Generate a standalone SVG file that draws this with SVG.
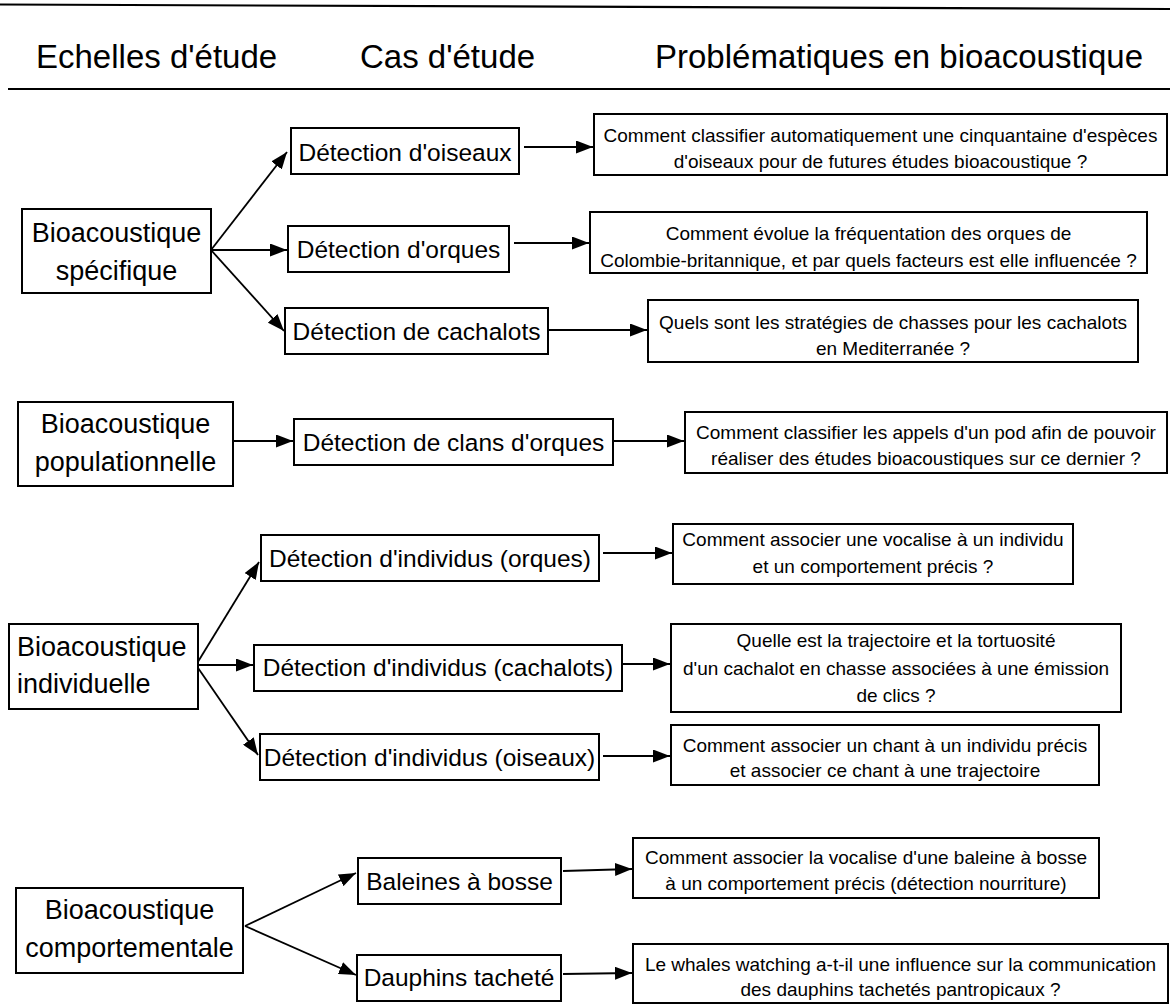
<svg xmlns="http://www.w3.org/2000/svg" width="1170" height="1005" viewBox="0 0 1170 1005">
<defs>
<marker id="ah" markerUnits="userSpaceOnUse" markerWidth="17" markerHeight="13" refX="17" refY="6.5" orient="auto">
<path d="M0,0 L17,6.5 L0,13 z" fill="#000"/>
</marker>
<style>
text{font-family:"Liberation Sans",Arial,sans-serif;fill:#000}
.hdr{font-size:33px}
.sc{font-size:27px;text-anchor:middle}
.scl{font-size:27px}
.cs{font-size:24.5px;text-anchor:middle}
.q{font-size:19px;text-anchor:middle}
rect{fill:#fff;stroke:#000;stroke-width:2}
.rule{stroke:#000;stroke-width:2.2;fill:none}
#connectors line{stroke:#000;stroke-width:1.8;marker-end:url(#ah)}
</style>
</defs>
<rect x="0" y="0" width="1170" height="1005" style="stroke:none;fill:#fff"/>
<g id="header">
<line class="rule" x1="0" y1="4.5" x2="1170" y2="9"/>
<line class="rule" x1="8" y1="89" x2="1170" y2="89"/>
<text class="hdr" x="36" y="68">Echelles d'étude</text>
<text class="hdr" x="360" y="68">Cas d'étude</text>
<text class="hdr" x="655" y="68">Problématiques en bioacoustique</text>
</g>
<g id="connectors">
<line x1="211" y1="250" x2="287" y2="152"/>
<line x1="211" y1="250" x2="287" y2="250"/>
<line x1="211" y1="250" x2="284" y2="331"/>
<line x1="524" y1="147" x2="593" y2="147"/>
<line x1="514" y1="243" x2="589" y2="243"/>
<line x1="548" y1="330" x2="647" y2="330"/>
<line x1="233" y1="441" x2="293" y2="441"/>
<line x1="613" y1="441" x2="684" y2="441"/>
<line x1="196" y1="665" x2="259" y2="562"/>
<line x1="196" y1="665" x2="253" y2="665"/>
<line x1="196" y1="665" x2="258" y2="755"/>
<line x1="603" y1="553" x2="672" y2="553"/>
<line x1="622" y1="664" x2="670" y2="664"/>
<line x1="603" y1="756" x2="670" y2="756"/>
<line x1="245" y1="926" x2="356" y2="873"/>
<line x1="245" y1="926" x2="356" y2="975"/>
<line x1="563" y1="871" x2="632" y2="869"/>
<line x1="563" y1="974" x2="632" y2="973"/>
</g>
<g id="n_bs"><rect x="22" y="209" width="189" height="84"/><text class="sc" x="116.5" y="242">Bioacoustique</text><text class="sc" x="116.5" y="280">spécifique</text></g>
<g id="n_bp"><rect x="18" y="402" width="215" height="84"/><text class="sc" x="125.5" y="433">Bioacoustique</text><text class="sc" x="125.5" y="471">populationnelle</text></g>
<g id="n_bi"><rect x="9" y="624" width="189" height="85"/><text class="scl" x="17" y="656">Bioacoustique</text><text class="scl" x="17" y="693">individuelle</text></g>
<g id="n_bc"><rect x="16" y="888" width="227" height="85"/><text class="sc" x="129.5" y="919">Bioacoustique</text><text class="sc" x="129.5" y="957">comportementale</text></g>
<g id="c_ois"><rect x="291" y="128" width="228" height="46"/><text class="cs" x="405" y="161">Détection d'oiseaux</text></g>
<g id="c_orq"><rect x="288" y="226" width="221" height="46"/><text class="cs" x="398.5" y="258">Détection d'orques</text></g>
<g id="c_cach"><rect x="285" y="308" width="263" height="46"/><text class="cs" x="416.5" y="340">Détection de cachalots</text></g>
<g id="c_clans"><rect x="294" y="419" width="319" height="46"/><text class="cs" x="453.5" y="451">Détection de clans d'orques</text></g>
<g id="c_iorq"><rect x="261" y="535" width="338" height="46"/><text class="cs" x="430" y="566.5">Détection d'individus (orques)</text></g>
<g id="c_icach"><rect x="254" y="645" width="368" height="46"/><text class="cs" x="438" y="676">Détection d'individus (cachalots)</text></g>
<g id="c_iois"><rect x="260" y="734" width="339" height="46"/><text class="cs" x="429.5" y="765.5">Détection d'individus (oiseaux)</text></g>
<g id="c_bal"><rect x="358" y="858" width="203" height="46"/><text class="cs" x="459.5" y="889.5">Baleines à bosse</text></g>
<g id="c_dau"><rect x="357" y="955" width="204" height="46"/><text class="cs" x="459" y="986">Dauphins tacheté</text></g>
<g id="q1"><rect x="594" y="114" width="573" height="61"/><text class="q" x="880.5" y="142">Comment classifier automatiquement une cinquantaine d'espèces</text><text class="q" x="880.5" y="168">d'oiseaux pour de futures études bioacoustique ?</text></g>
<g id="q2"><rect x="590" y="212" width="557" height="61"/><text class="q" x="868.5" y="240">Comment évolue la fréquentation des orques de</text><text class="q" x="868.5" y="267">Colombie-britannique, et par quels facteurs est elle influencée ?</text></g>
<g id="q3"><rect x="648" y="300" width="490" height="62"/><text class="q" x="893" y="329">Quels sont les stratégies de chasses pour les cachalots</text><text class="q" x="893" y="355">en Mediterranée ?</text></g>
<g id="q4"><rect x="685" y="412" width="482" height="61"/><text class="q" x="926" y="439">Comment classifier les appels d'un pod afin de pouvoir</text><text class="q" x="926" y="465">réaliser des études bioacoustiques sur ce dernier ?</text></g>
<g id="q5"><rect x="673" y="524" width="400" height="60"/><text class="q" x="873" y="546">Comment associer une vocalise à un individu</text><text class="q" x="873" y="573">et un comportement précis ?</text></g>
<g id="q6"><rect x="671" y="624" width="450" height="88"/><text class="q" x="896" y="647">Quelle est la trajectoire et la tortuosité</text><text class="q" x="896" y="675">d'un cachalot en chasse associées à une émission</text><text class="q" x="896" y="702">de clics ?</text></g>
<g id="q7"><rect x="671" y="725" width="428" height="60"/><text class="q" x="885" y="752">Comment associer un chant à un individu précis</text><text class="q" x="885" y="777">et associer ce chant à une trajectoire</text></g>
<g id="q8"><rect x="633" y="838" width="466" height="60"/><text class="q" x="866" y="864">Comment associer la vocalise d'une baleine à bosse</text><text class="q" x="866" y="890">à un comportement précis (détection nourriture)</text></g>
<g id="q9"><rect x="633" y="944" width="535" height="59"/><text class="q" x="900.5" y="971">Le whales watching a-t-il une influence sur la communication</text><text class="q" x="900.5" y="996">des dauphins tachetés pantropicaux ?</text></g>
</svg>
